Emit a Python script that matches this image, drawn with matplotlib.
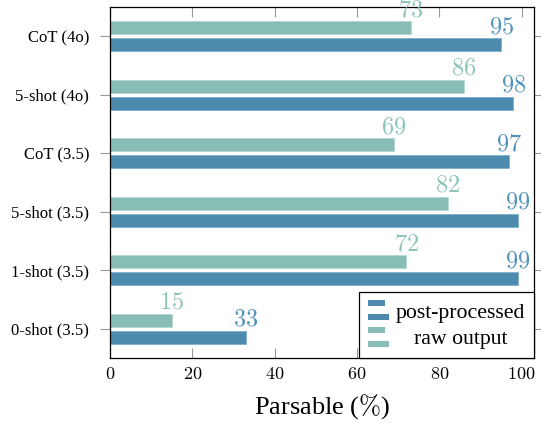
import numpy as np
import matplotlib
matplotlib.use("Agg")
import matplotlib.pyplot as plt
from matplotlib.patches import Rectangle
from matplotlib.legend_handler import HandlerBase

plt.rcParams['font.family'] = ['Liberation Serif', 'DejaVu Serif']
plt.rcParams['mathtext.fontset'] = 'cm'

# data (bottom to top)
categories = ["0-shot (3.5)", "1-shot (3.5)", "5-shot (3.5)", "CoT (3.5)", "5-shot (4o)", "CoT (4o)"]
post_processed = [33, 99, 99, 97, 98, 95]
raw_output = [15, 72, 82, 69, 86, 73]
xticks = [0, 20, 40, 60, 80, 100]

dark = "#4c8bae"
light = "#87bdb4"
dark_txt = "#5093bb"
light_txt = "#8cc4ba"


class TwoBarHandler(HandlerBase):
    # pgfplots-like legend icon: short bar on top, long bar below
    def create_artists(self, legend, orig_handle, xdescent, ydescent,
                       width, height, fontsize, trans):
        c = orig_handle.get_facecolor()
        h = height * 0.3
        top = Rectangle((-xdescent, -ydescent + height - h), width * 0.78, h,
                        facecolor=c, edgecolor='none', transform=trans)
        bot = Rectangle((-xdescent, -ydescent), width, h,
                        facecolor=c, edgecolor='none', transform=trans)
        return [top, bot]


fig = plt.figure(figsize=(5.41, 4.24), dpi=100)
ax = fig.add_axes([110 / 541, 1 - 358 / 424, (534 - 110) / 541, (358 - 7) / 424])

y = np.arange(len(categories))
bh = 0.22
off = 0.145
b1 = ax.barh(y - off, post_processed, height=bh, color=dark, edgecolor="#7fb0cc", linewidth=0.6)
b2 = ax.barh(y + off, raw_output, height=bh, color=light, edgecolor="#b3d8d1", linewidth=0.6)

for yi, v in zip(y, post_processed):
    ax.annotate(f"${v}$", (v, yi - off + bh / 2), xytext=(0, 0), textcoords="offset points",
                ha="center", va="bottom", fontsize=17.5, color=dark_txt)
for yi, v in zip(y, raw_output):
    ax.annotate(f"${v}$", (v, yi + off + bh / 2), xytext=(0, 0), textcoords="offset points",
                ha="center", va="bottom", fontsize=17.5, color=light_txt)

ax.set_xlim(0, 103)
ax.set_ylim(-0.5, len(categories) - 0.5)
ax.set_yticks(y)
ax.set_yticklabels(categories, fontsize=12)
ax.set_xticks(xticks)
ax.set_xticklabels([f"${t}$" for t in xticks], fontsize=13)
ax.tick_params(axis='x', direction='in', length=7, color='#999999', width=0.8,
               top=True, pad=6)
ax.tick_params(axis='y', direction='out', length=7, color='#999999', width=0.8,
               right=True, pad=8)
for s in ax.spines.values():
    s.set_linewidth(0.9)
    s.set_color('black')

ax.set_xlabel(r"Parsable ($\%$)", fontsize=19, labelpad=6)

leg = ax.legend([b1[0], b2[0]], ["post-processed", "raw output"],
                handler_map={matplotlib.patches.Rectangle: TwoBarHandler()},
                loc="lower right", bbox_to_anchor=(1, 0), borderaxespad=0,
                fontsize=15.7, fancybox=False, edgecolor='black', framealpha=1,
                handlelength=1.0, handleheight=1.0, handletextpad=0.3,
                labelspacing=0.2, borderpad=0.4)
leg.get_frame().set_linewidth(0.9)

# center the legend labels like the reference
fig.canvas.draw()
texts = leg.get_texts()
widths = [t.get_window_extent().width for t in texts]
wmax = max(widths)
for t, w in zip(texts, widths):
    t.set_position(((wmax - w) / 2, 0))

fig.savefig("out.png", dpi=100)
